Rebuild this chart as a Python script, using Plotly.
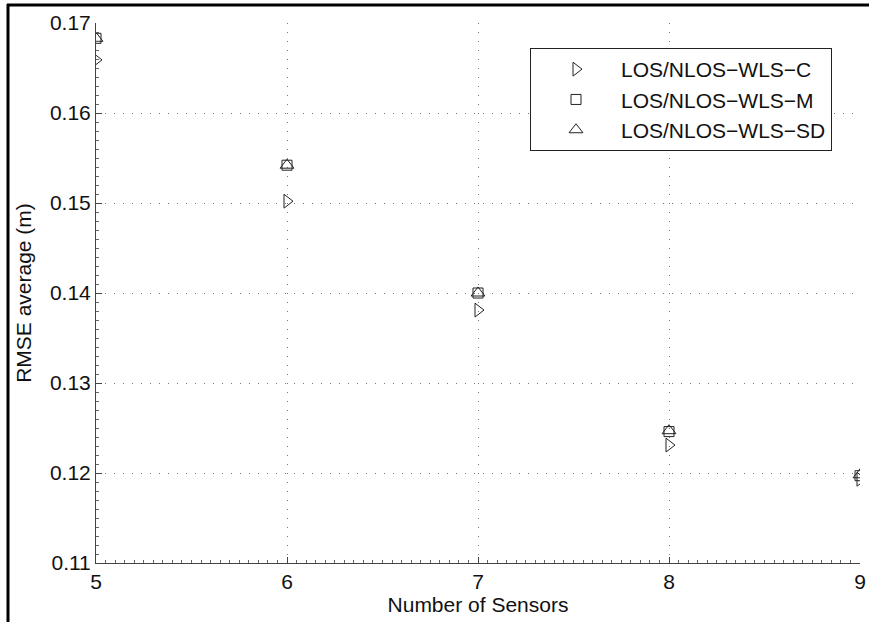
import plotly.graph_objects as go

sensors = [5, 6, 7, 8, 9]
rmse_c = [0.1659, 0.1502, 0.1381, 0.1231, 0.1193]
rmse_m = [0.1683, 0.1542, 0.1400, 0.1246, 0.1197]
rmse_sd = [0.1683, 0.1542, 0.1400, 0.1247, 0.1198]
series_names = ["LOS/NLOS\u2212WLS\u2212C", "LOS/NLOS\u2212WLS\u2212M", "LOS/NLOS\u2212WLS\u2212SD"]
y_ticks = [0.11, 0.12, 0.13, 0.14, 0.15, 0.16, 0.17]

W, H = 869, 622
L, R, T, B = 96, 9, 23, 59
PW, PH = W - L - R, H - T - B

FONT = "Liberation Sans, Arial, sans-serif"
MK = "#222222"
FS = 21

fig = go.Figure()
fig.add_trace(go.Scatter(x=sensors, y=rmse_c, mode="markers", name=series_names[0],
                         marker=dict(symbol="triangle-right-open", size=12, color=MK, line=dict(width=1, color=MK))))
fig.add_trace(go.Scatter(x=sensors, y=rmse_m, mode="markers", name=series_names[1],
                         marker=dict(symbol="square-open", size=10, color=MK, line=dict(width=1, color=MK))))
fig.add_trace(go.Scatter(x=sensors, y=rmse_sd, mode="markers", name=series_names[2],
                         marker=dict(symbol="triangle-up-open", size=12, color=MK, line=dict(width=1, color=MK))))

def px_x(p):
    return (p - L) / PW

def px_y(p):
    return (H - B - p) / PH

# outer figure frame (visible on left and top)
fig.add_shape(type="line", xref="paper", yref="paper", x0=px_x(8), x1=px_x(8), y0=px_y(4), y1=px_y(640),
              line=dict(color="black", width=3))
fig.add_shape(type="line", xref="paper", yref="paper", x0=px_x(7), x1=px_x(900), y0=px_y(5), y1=px_y(5),
              line=dict(color="black", width=3))

GRID_DASH = "1px,8px"

fig.update_layout(
    width=W, height=H,
    margin=dict(l=L, r=R, t=T, b=B, autoexpand=False),
    paper_bgcolor="white", plot_bgcolor="white",
    font=dict(family=FONT, size=FS, color="#111"),
    showlegend=True,
    legend=dict(
        x=px_x(832), y=px_y(48), xanchor="right", yanchor="top",
        bgcolor="white", bordercolor="#222", borderwidth=1,
        font=dict(family=FONT, size=FS, color="#111"),
        itemwidth=80,
        entrywidth=225,
    ),
    xaxis=dict(
        range=[5, 9], tickvals=sensors, ticktext=[str(s) for s in sensors],
        showline=True, linecolor="#444", linewidth=1,
        ticks="inside", ticklen=6, tickcolor="#444",
        showgrid=True, gridcolor="#777", griddash=GRID_DASH, gridwidth=1,
        zeroline=False, automargin=False,
        minor=dict(dtick=0.05, ticks="inside", ticklen=3, tickcolor="#666", showgrid=False),
        title=dict(text="Number of Sensors", font=dict(family=FONT, size=FS, color="#111"), standoff=4),
        tickfont=dict(family=FONT, size=FS, color="#111"),
    ),
    yaxis=dict(
        range=[0.11, 0.17], tickvals=y_ticks, ticktext=[f"{v:.2f}" for v in y_ticks],
        showline=True, linecolor="#444", linewidth=1,
        ticks="inside", ticklen=6, tickcolor="#444",
        showgrid=True, gridcolor="#777", griddash=GRID_DASH, gridwidth=1,
        zeroline=False, automargin=False,
        minor=dict(dtick=0.001, ticks="inside", ticklen=3, tickcolor="#666", showgrid=False),
        title=dict(text="RMSE average (m)", font=dict(family=FONT, size=FS, color="#111"), standoff=12),
        tickfont=dict(family=FONT, size=FS, color="#111"),
    ),
)

fig.write_html(
    "out.html",
    config={"displayModeBar": False},
    post_script="document.body.style.margin='0';document.body.style.overflow='hidden';",
)
